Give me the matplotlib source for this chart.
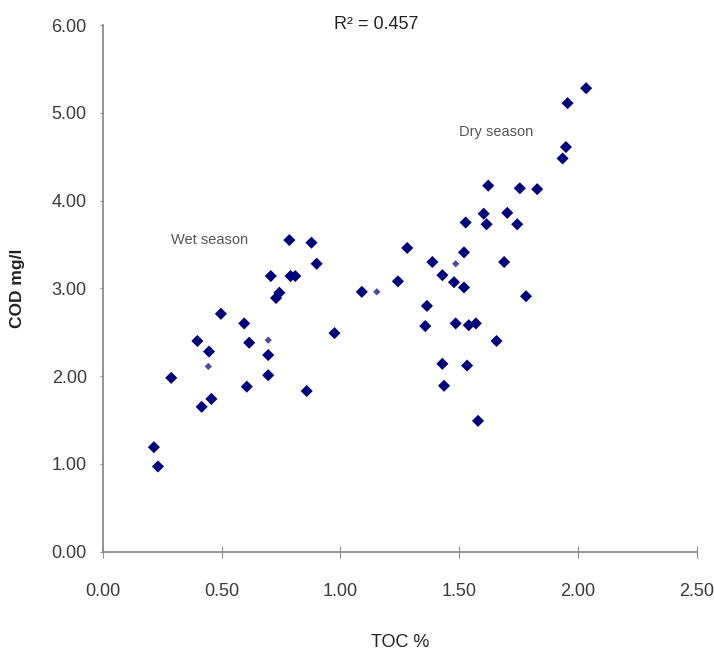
import matplotlib
matplotlib.use("Agg")
import matplotlib.pyplot as plt

# TOC % (x) and COD mg/l (y)
toc = [0.215, 0.232, 0.288, 0.398, 0.447, 0.416, 0.457, 0.497, 0.595, 0.616,
       0.606, 0.696, 0.696, 0.729, 0.743, 0.975, 0.858, 0.707, 0.790, 0.810,
       0.785, 0.878, 0.900, 1.090,
       2.034, 1.956, 1.949, 1.935, 1.622, 1.755, 1.828, 1.527, 1.603, 1.615,
       1.702, 1.744, 1.281, 1.520, 1.387, 1.689, 1.429, 1.242, 1.478, 1.520,
       1.781, 1.364, 1.357, 1.485, 1.540, 1.570, 1.657, 1.429, 1.533, 1.436,
       1.579]
cod = [1.19, 0.97, 1.98, 2.40, 2.28, 1.65, 1.74, 2.71, 2.60, 2.38,
       1.88, 2.24, 2.01, 2.89, 2.95, 2.49, 1.83, 3.14, 3.14, 3.14,
       3.55, 3.52, 3.28, 2.96,
       5.28, 5.11, 4.61, 4.48, 4.17, 4.14, 4.13, 3.75, 3.85, 3.73,
       3.86, 3.73, 3.46, 3.41, 3.30, 3.30, 3.15, 3.08, 3.07, 3.01,
       2.91, 2.80, 2.57, 2.60, 2.58, 2.60, 2.40, 2.14, 2.12, 1.89,
       1.49]
# faint small markers
toc_small = [0.444, 0.696, 1.153, 1.485]
cod_small = [2.11, 2.41, 2.96, 3.28]

x_ticks = [0.0, 0.5, 1.0, 1.5, 2.0, 2.5]
y_ticks = [0, 1, 2, 3, 4, 5, 6]
r2_text = "R² = 0.457"

plt.rcParams['font.family'] = ['Liberation Sans', 'DejaVu Sans']

fig = plt.figure(figsize=(7.14, 6.55), dpi=100)
ax = fig.add_axes([0.1440, 0.1578, 0.8320, 0.8040])

navy = "#000080"
ax.scatter(toc, cod, marker="D", s=38, color=navy, edgecolors="none", zorder=3)
ax.scatter(toc_small, cod_small, marker="D", s=14, color=navy, edgecolors="none",
           alpha=0.7, zorder=3)

ax.set_xlim(0, 2.5)
ax.set_ylim(0, 6)
ax.set_xticks(x_ticks)
ax.set_yticks(y_ticks)
ax.set_xticklabels([f"{v:.2f}" for v in x_ticks])
ax.set_yticklabels([f"{v:.2f}" for v in y_ticks])

for s in ("top", "right"):
    ax.spines[s].set_visible(False)
for s in ("left", "bottom"):
    ax.spines[s].set_color("#8c8c8c")
    ax.spines[s].set_linewidth(1.3)

ax.tick_params(axis="y", direction="out", length=2.5, color="#8c8c8c",
               labelsize=13, labelcolor="#3a3a3a", pad=9)
ax.tick_params(axis="x", direction="inout", length=8, color="#8c8c8c",
               labelsize=13, labelcolor="#3a3a3a", pad=18.5)

ax.set_xlabel("TOC %", fontsize=13, color="#222222", va="center")
ax.xaxis.set_label_coords(0.5, -0.1734)
ax.set_ylabel("COD mg/l", fontsize=12.5, color="#222222", fontweight="bold", va="center")
ax.yaxis.set_label_coords(-0.1428, 0.5)

fig.text(0.527, 0.963, r2_text, ha="center", va="center", fontsize=13, color="#222222")
ax.text(0.286, 3.55, "Wet season", ha="left", va="center", fontsize=10.5, color="#555555")
ax.text(1.50, 4.78, "Dry season", ha="left", va="center", fontsize=10.5, color="#555555")

fig.savefig("out.png", dpi=100)
